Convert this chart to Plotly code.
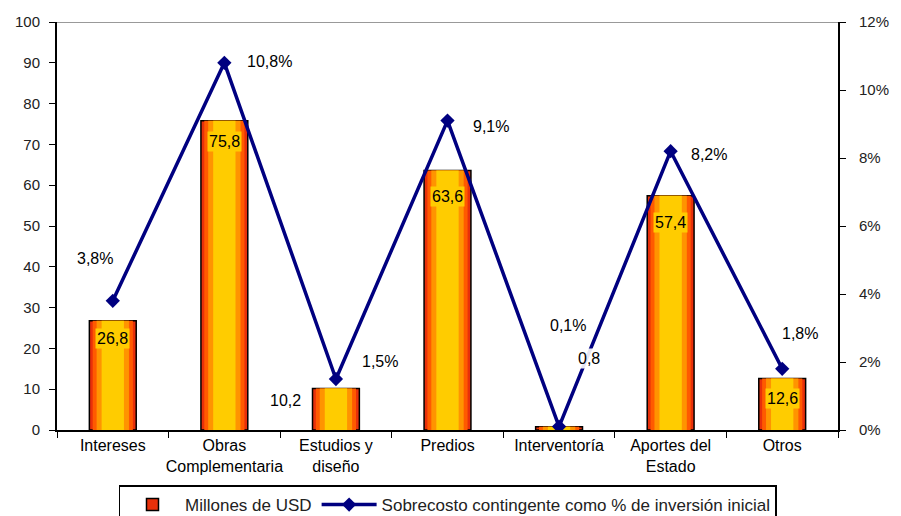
import plotly.graph_objects as go

categories = ["Intereses", "Obras<br>Complementaria", "Estudios y<br>diseño", "Predios",
              "Interventoría", "Aportes del<br>Estado", "Otros"]
millones_usd = [26.8, 75.8, 10.2, 63.6, 0.8, 57.4, 12.6]
sobrecosto_pct = [3.8, 10.8, 1.5, 9.1, 0.1, 8.2, 1.8]
bar_labels = ["26,8", "75,8", "10,2", "63,6", "0,8", "57,4", "12,6"]
pct_labels = ["3,8%", "10,8%", "1,5%", "9,1%", "0,1%", "8,2%", "1,8%"]
left_ticks = [0, 10, 20, 30, 40, 50, 60, 70, 80, 90, 100]
right_ticks = [0, 2, 4, 6, 8, 10, 12]
right_tick_text = ["0%", "2%", "4%", "6%", "8%", "10%", "12%"]

# label placement (pixel offsets) and whether label sits on a yellow box
bar_label_offsets = [(0, -18), (0, -21), (-50, -12), (0, -26), (30, 68), (0, -27), (0, -20)]
bar_label_boxed = [True, True, False, True, False, True, True]
pct_label_offsets = [(-18, 42), (45, 1), (44, 18), (43, -6), (9, 101), (38, -3), (18, 35)]

FONT = "Arial, Liberation Sans, sans-serif"

fig = go.Figure()

layers = [(0.42, "#E8300A", True), (0.36, "#FF5A00", False), (0.29, "#FF9400", False), (0.20, "#FFCC00", False)]
for i, (w, col, first) in enumerate(layers):
    fig.add_trace(go.Bar(
        x=categories, y=millones_usd, width=w, marker_color=col,
        marker_line=dict(color="black", width=1.5 if first else 0),
        name="Millones de USD", showlegend=first, hoverinfo="skip" if not first else None,
        yaxis="y",
    ))

fig.add_trace(go.Scatter(
    x=categories, y=sobrecosto_pct, yaxis="y2", mode="lines+markers",
    line=dict(color="#000080", width=3.5), marker=dict(symbol="diamond", size=11, color="#000080"),
    name="Sobrecosto contingente como % de inversión inicial",
))

annotations = []
for c, v, t, (dx, dy), boxed in zip(categories, millones_usd, bar_labels, bar_label_offsets, bar_label_boxed):
    annotations.append(dict(x=c, y=v, xref="x", yref="y", text=t, showarrow=False,
                            xshift=dx, yshift=dy, font=dict(family=FONT, size=16, color="black"),
                            bgcolor="#FFCC00" if boxed else "rgba(255,255,255,0.9)", borderpad=1))
for c, v, t, (dx, dy) in zip(categories, sobrecosto_pct, pct_labels, pct_label_offsets):
    annotations.append(dict(x=c, y=v, xref="x", yref="y2", text=t, showarrow=False,
                            xshift=dx, yshift=dy, font=dict(family=FONT, size=16, color="black"),
                            bgcolor="white", borderpad=1))

fig.update_layout(
    width=901, height=516,
    margin=dict(l=57, r=63, t=22, b=86, autoexpand=False),
    paper_bgcolor="white", plot_bgcolor="white",
    barmode="overlay",
    font=dict(family=FONT, size=14, color="black"),
    xaxis=dict(type="category", tickson="boundaries", ticks="outside", ticklen=6, tickcolor="black",
               showline=True, linecolor="black", linewidth=2, showgrid=False, tickangle=0,
               automargin=False, tickfont=dict(family=FONT, size=16, color="black")),
    yaxis=dict(range=[0, 100], tickvals=left_ticks, ticks="outside", ticklen=6, tickcolor="black",
               showline=True, linecolor="black", linewidth=2, showgrid=False, zeroline=False,
               automargin=False, ticklabelstandoff=6,
               tickfont=dict(family=FONT, size=15, color="#222")),
    yaxis2=dict(range=[0, 12], tickvals=right_ticks, ticktext=right_tick_text, overlaying="y", side="right",
                ticks="outside", ticklen=6, tickcolor="black", showline=True, linecolor="black", linewidth=2,
                showgrid=False, zeroline=False, automargin=False, ticklabelstandoff=10,
                tickfont=dict(family=FONT, size=15, color="#222")),
    legend=dict(orientation="h", x=0.5, xanchor="center", y=-0.136, yanchor="top",
                bordercolor="black", borderwidth=1.5, bgcolor="white",
                font=dict(family=FONT, size=17, color="#222"), itemwidth=55, tracegroupgap=0),
    annotations=annotations,
    shapes=[dict(type="line", xref="paper", yref="y", x0=0, x1=1, y0=100, y1=100,
                 line=dict(color="#999", width=2), layer="below")],
)

fig.write_html("out.html")
